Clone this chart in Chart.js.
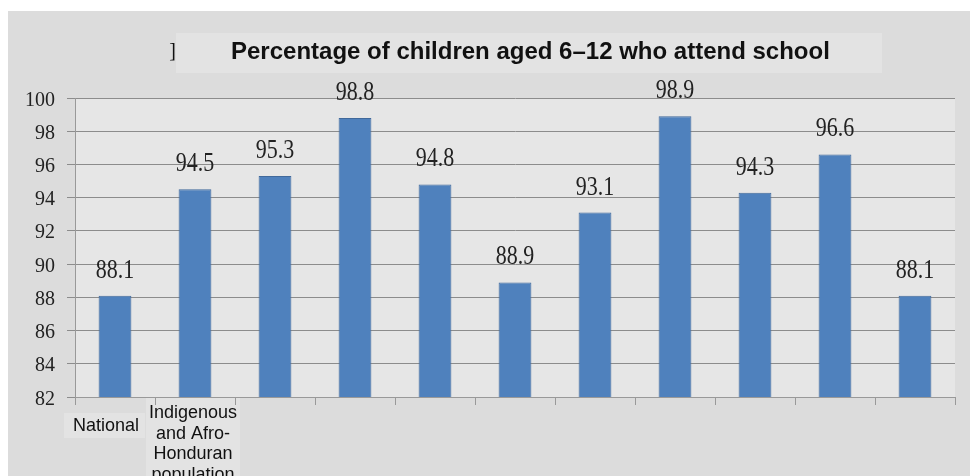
<!DOCTYPE html>
<html>
<head>
<meta charset="utf-8">
<script src="https://cdn.jsdelivr.net/npm/chart.js@4/dist/chart.umd.min.js"></script>
<style>
  html, body { margin: 0; padding: 0; background: #fff; }
  #wrap { width: 976px; height: 476px; }
</style>
</head>
<body>
<div id="wrap"><canvas id="chart" width="976" height="476"></canvas></div>
<script>
// chart values
var categories = [
  ['National'],
  ['Indigenous', 'and Afro-', 'Honduran', 'population'],
  [], [], [], [], [], [], [], [], []
];
var values = [88.1, 94.5, 95.3, 98.8, 94.8, 88.9, 93.1, 98.9, 94.3, 96.6, 88.1];
var titleText = 'Percentage of children aged 6\u201312 who attend school';
var yMin = 82, yMax = 100, yStep = 2;

// text drawn a bit taller than wide, like the source image
function stretchText(c, txt, x, y, sy) {
  c.save();
  c.translate(x, y);
  c.scale(1, sy);
  c.fillText(txt, 0, 0);
  c.restore();
}

var decor = {
  id: 'decor',
  beforeDraw: function(chart) {
    var c = chart.ctx, a = chart.chartArea;
    c.save();
    c.fillStyle = '#dcdcdc';
    c.fillRect(8, 11, 962, 465);
    c.fillStyle = '#e3e3e3';
    c.fillRect(176, 33, 706, 40);     // title box
    c.fillRect(64, 413, 81, 25);      // "National" box
    c.fillRect(146, 398, 94, 78);     // second label box
    c.fillStyle = '#e6e6e6';
    c.fillRect(a.left, a.top, a.right - a.left, a.bottom - a.top);
    c.restore();
  },
  afterDraw: function(chart) {
    var c = chart.ctx;
    var xs = chart.scales.x, ys = chart.scales.y;
    c.save();
    c.fillStyle = '#111';
    c.textBaseline = 'alphabetic';

    // title
    c.font = 'bold 24px "Liberation Sans", Arial, sans-serif';
    c.textAlign = 'left';
    c.fillText(titleText, 231, 59);
    c.font = '20px "Liberation Serif", serif';
    c.textAlign = 'right';
    stretchText(c, ']', 176, 57, 1.1);

    // y tick labels
    c.font = '20px "Liberation Serif", "Times New Roman", serif';
    c.fillStyle = '#222';
    for (var v = yMin; v <= yMax; v += yStep) {
      stretchText(c, String(v), 55, ys.getPixelForValue(v) + 7.5, 1.1);
    }

    // x category labels (the first one sits a little left of its bar)
    c.font = '18px "Liberation Sans", Arial, sans-serif';
    c.textAlign = 'center';
    c.fillStyle = '#111';
    categories.forEach(function(lines, i) {
      var cx = xs.getPixelForValue(i) + (lines.length === 1 ? -9 : -2);
      var base = lines.length === 1 ? 431 : 418;
      lines.forEach(function(line, k) {
        stretchText(c, line, cx, base + k * 20.5, 1.07);
      });
    });

    // value labels
    var meta = chart.getDatasetMeta(0);
    c.font = '22px "Liberation Serif", "Times New Roman", serif';
    c.fillStyle = '#222';
    meta.data.forEach(function(bar, i) {
      stretchText(c, values[i].toFixed(1), bar.x, bar.y - 18, 1.2);
    });
    c.restore();
  }
};

var ctx = document.getElementById('chart');
var myChart = new Chart(ctx, {
  type: 'bar',
  data: {
    labels: categories,
    datasets: [{
      data: values,
      backgroundColor: '#4f81bd',
      borderColor: '#41699b',
      borderWidth: 1,
      barPercentage: 0.41,
      categoryPercentage: 1
    }]
  },
  options: {
    responsive: false,
    animation: false,
    layout: { padding: { top: 98, right: 21, left: 0, bottom: 0 } },
    plugins: {
      legend: { display: false },
      title: { display: false },
      tooltip: { enabled: false }
    },
    scales: {
      x: {
        afterFit: function(scale) { scale.height = 79; },
        grid: {
          offset: true,
          drawOnChartArea: false,
          drawTicks: true,
          tickLength: 8,
          color: '#999'
        },
        border: { color: '#999' },
        ticks: { display: false }
      },
      y: {
        min: yMin,
        max: yMax,
        afterFit: function(scale) { scale.width = 75; },
        grid: {
          color: '#8c8c8c',
          tickLength: 8,
          drawTicks: true
        },
        border: { color: '#999' },
        ticks: { stepSize: yStep, display: false }
      }
    }
  },
  plugins: [decor]
});
</script>
</body>
</html>
